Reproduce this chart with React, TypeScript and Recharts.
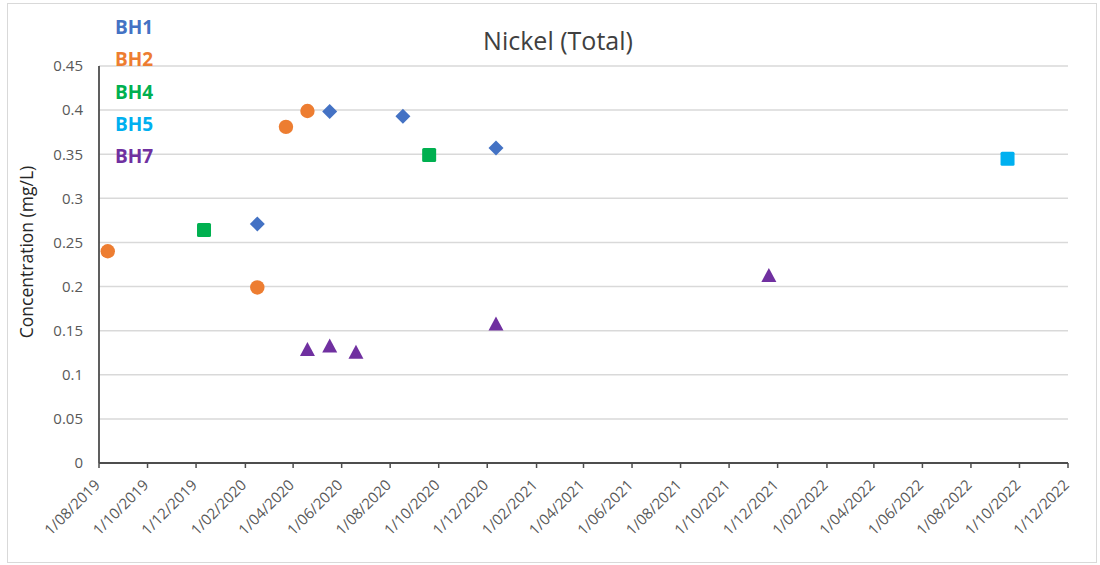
// Nickel (Total) – concentración por pozo (BH1..BH7), eje X por fecha.
import { CartesianGrid, Scatter, ScatterChart, XAxis, YAxis } from 'recharts';

const bh1Dates = ['2020-02-16', '2020-05-17', '2020-08-17', '2020-12-12'];
const bh1Values = [0.271, 0.3985, 0.393, 0.357];

const bh2Dates = ['2019-08-12', '2020-02-16', '2020-03-23', '2020-04-19'];
const bh2Values = [0.24, 0.199, 0.381, 0.399];

const bh4Dates = ['2019-12-11', '2020-09-19'];
const bh4Values = [0.264, 0.349];

const bh5Dates = ['2022-09-16'];
const bh5Values = [0.345];

const bh7Dates = ['2020-04-19', '2020-05-17', '2020-06-19', '2020-12-12', '2021-11-20'];
const bh7Values = [0.128, 0.132, 0.125, 0.157, 0.212];

const xTickDates = [
  '2019-08-01', '2019-10-01', '2019-12-01', '2020-02-01', '2020-04-01', '2020-06-01', '2020-08-01',
  '2020-10-01', '2020-12-01', '2021-02-01', '2021-04-01', '2021-06-01', '2021-08-01', '2021-10-01',
  '2021-12-01', '2022-02-01', '2022-04-01', '2022-06-01', '2022-08-01', '2022-10-01', '2022-12-01',
];
const yTicks = [0, 0.05, 0.1, 0.15, 0.2, 0.25, 0.3, 0.35, 0.4, 0.45];

const FONT = '"Open Sans", sans-serif';

function ts(d: string) {
  const [y, m, dd] = d.split('-').map(Number);
  return Date.UTC(y, m - 1, dd);
}

function toPoints(dates: string[], values: number[]) {
  return dates.map((d, i) => ({ t: ts(d), v: values[i] }));
}

function fmtDate(v: number) {
  const d = new Date(v);
  const mm = String(d.getUTCMonth() + 1).padStart(2, '0');
  return `${d.getUTCDate()}/${mm}/${d.getUTCFullYear()}`;
}

const series = [
  { name: 'BH1', color: '#4472C4', shape: 'diamond', data: toPoints(bh1Dates, bh1Values) },
  { name: 'BH2', color: '#ED7D31', shape: 'circle', data: toPoints(bh2Dates, bh2Values) },
  { name: 'BH4', color: '#00B050', shape: 'square', data: toPoints(bh4Dates, bh4Values) },
  { name: 'BH5', color: '#00B0F0', shape: 'square', data: toPoints(bh5Dates, bh5Values) },
  { name: 'BH7', color: '#7030A0', shape: 'triangle', data: toPoints(bh7Dates, bh7Values) },
];

function marker(kind: string, color: string) {
  return (p: any) => {
    const { cx, cy } = p;
    if (kind === 'circle') return <circle cx={cx} cy={cy} r={7.2} fill={color} />;
    if (kind === 'square') return <rect x={cx - 7} y={cy - 7} width={14} height={14} rx={1.5} fill={color} />;
    if (kind === 'diamond')
      return <polygon points={`${cx},${cy - 7.5} ${cx + 7.5},${cy} ${cx},${cy + 7.5} ${cx - 7.5},${cy}`} fill={color} />;
    return <polygon points={`${cx},${cy - 8} ${cx + 7.5},${cy + 6} ${cx - 7.5},${cy + 6}`} fill={color} />;
  };
}

function DateTick({ x, y, payload }: any) {
  const ax = x + 2;
  const ay = y + 18;
  return (
    <text x={ax} y={ay} transform={`rotate(-45 ${ax} ${ay})`} textAnchor="end" fontSize={15} fontFamily={FONT} fill="#595959">
      {fmtDate(payload.value)}
    </text>
  );
}

export default function App() {
  return (
    <div style={{ position: 'absolute', left: 0, top: 0, width: 1100, height: 565, background: '#fff', fontFamily: FONT }}>
      <div style={{ position: 'absolute', left: 7, top: 3, width: 1088, height: 558, border: '1px solid #d9d9d9' }} />
      <ScatterChart width={1100} height={565} margin={{ top: 66, right: 32, bottom: 0, left: 0 }}>
        <CartesianGrid vertical={false} stroke="#d9d9d9" strokeWidth={1.5} />
        <XAxis
          type="number"
          dataKey="t"
          domain={[ts(xTickDates[0]), ts(xTickDates[xTickDates.length - 1])]}
          ticks={xTickDates.map(ts)}
          interval={0}
          height={102}
          tick={<DateTick />}
          tickSize={5}
          tickMargin={0}
          tickLine={{ stroke: '#4d4d4d', strokeWidth: 1.5 }}
          axisLine={{ stroke: '#4d4d4d', strokeWidth: 1.8 }}
          allowDataOverflow
        />
        <YAxis
          type="number"
          dataKey="v"
          domain={[0, 0.45]}
          ticks={yTicks}
          interval={0}
          width={99}
          tickLine={false}
          tickSize={0}
          tickMargin={16}
          tick={{ fontSize: 15, fill: '#595959', fontFamily: FONT }}
          axisLine={{ stroke: '#4d4d4d', strokeWidth: 1.8 }}
        />
        {series.map((s) => (
          <Scatter key={s.name} name={s.name} data={s.data} fill={s.color} shape={marker(s.shape, s.color)} isAnimationActive={false} />
        ))}
      </ScatterChart>
      <div style={{ position: 'absolute', left: 0, width: 1116, top: 24, textAlign: 'center', fontSize: 25, color: '#404040', lineHeight: '32px' }}>
        Nickel (Total)
      </div>
      <div
        style={{
          position: 'absolute', left: 26, top: 252, transform: 'translate(-50%, -50%) rotate(-90deg)',
          whiteSpace: 'nowrap', fontSize: 17.5, color: '#262626', lineHeight: '20px',
        }}
      >
        Concentration (mg/L)
      </div>
      {series.map((s, i) => (
        <div
          key={s.name}
          style={{ position: 'absolute', left: 115, top: 12 + i * 32.3, fontSize: 19, fontWeight: 700, color: s.color, lineHeight: '30px' }}
        >
          {s.name}
        </div>
      ))}
    </div>
  );
}
